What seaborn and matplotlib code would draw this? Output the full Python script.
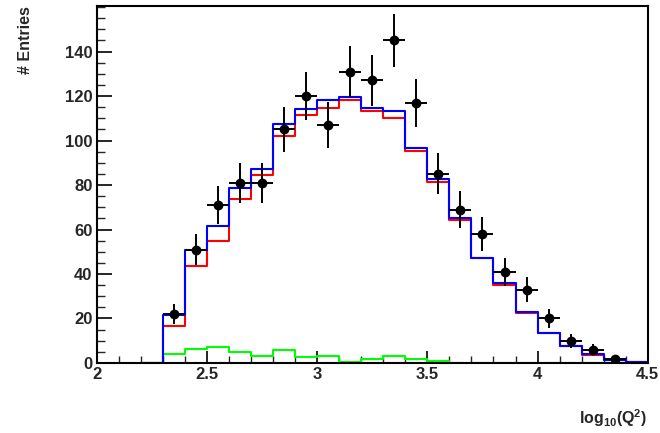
import numpy as np
import pandas as pd
import matplotlib
matplotlib.use("Agg")
import matplotlib.pyplot as plt
import seaborn as sns
from matplotlib.ticker import MultipleLocator

# ------------------- data ----------------------------------------- #
# an empty bin 2.2-2.3 in front so the step outline rises from zero at 2.3
bin_edges = [2.2, 2.3, 2.4, 2.5, 2.6, 2.7, 2.8, 2.9, 3.0, 3.1, 3.2, 3.3, 3.4,
             3.5, 3.6, 3.7, 3.8, 3.9, 4.0, 4.1, 4.2, 4.3, 4.4, 4.5]
bin_centers = [2.25, 2.35, 2.45, 2.55, 2.65, 2.75, 2.85, 2.95, 3.05, 3.15, 3.25, 3.35,
               3.45, 3.55, 3.65, 3.75, 3.85, 3.95, 4.05, 4.15, 4.25, 4.35, 4.45]

data_counts = [0, 22, 51, 71, 81, 81, 105, 120, 107, 131, 127, 145,
               117, 85, 69, 58, 41, 33, 20, 10, 6, 2, 0]
mc_total = [0, 21.5, 50.9, 61.4, 78.5, 87.4, 107.5, 114.0, 118.2, 119.5, 114.6, 113.2,
            96.5, 82.6, 65.0, 47.4, 35.9, 23.0, 13.7, 7.8, 3.9, 1.4, 0.5]
mc_signal = [0, 16.8, 43.4, 54.8, 73.9, 84.7, 101.9, 111.7, 114.7, 118.3, 113.1, 110.0,
             95.5, 81.5, 64.4, 47.0, 35.1, 22.5, 13.5, 7.7, 3.8, 1.3, 0.4]
mc_bkg = [0, 4.0, 6.3, 7.2, 4.8, 3.3, 5.7, 2.5, 3.3, 0.6, 1.6, 3.2,
          1.6, 0.7, 0, 0, 0, 0, 0, 0, 0, 0, 0]

hist_df = pd.DataFrame({"x": bin_centers, "total": mc_total,
                        "signal": mc_signal, "bkg": mc_bkg, "data": data_counts})
pts = hist_df[hist_df["data"] > 0]

# ------------------- style -------------------- #
sns.set_style("white")
plt.rcParams["font.family"] = ["Liberation Sans", "DejaVu Sans"]
plt.rcParams["font.weight"] = "bold"
plt.rcParams["mathtext.fontset"] = "custom"
plt.rcParams["mathtext.rm"] = "Liberation Sans:bold"
plt.rcParams["mathtext.bf"] = "Liberation Sans:bold"
plt.rcParams["mathtext.it"] = "Liberation Sans:bold"

fig = plt.figure(figsize=(6.6, 4.33), dpi=100)
ax = fig.add_axes([0.1465, 0.1617, 0.835, 0.8245])

sns.histplot(x=bin_centers, weights=mc_bkg, bins=bin_edges, element="step",
             fill=False, color="#00ff00", linewidth=1.5, ax=ax)
sns.histplot(x=bin_centers, weights=mc_signal, bins=bin_edges, element="step",
             fill=False, color="#ff0000", linewidth=1.5, ax=ax)
sns.histplot(x=bin_centers, weights=mc_total, bins=bin_edges, element="step",
             fill=False, color="#0000ff", linewidth=1.5, ax=ax)

ax.errorbar(pts["x"], pts["data"], xerr=0.05, yerr=np.sqrt(pts["data"]),
            fmt="none", ecolor="black", elinewidth=1.4, capsize=0, zorder=4)
sns.scatterplot(data=pts, x="x", y="data", color="black", s=50,
                edgecolor="black", linewidth=0, zorder=5, ax=ax)

ax.set_xlim(2, 4.5)
ax.set_ylim(0, 160.5)
ax.set_xlabel("")
ax.set_ylabel("")

ax.xaxis.set_major_locator(MultipleLocator(0.5))
ax.xaxis.set_minor_locator(MultipleLocator(0.1))
ax.yaxis.set_major_locator(MultipleLocator(20))
ax.yaxis.set_minor_locator(MultipleLocator(5))
ax.set_xticks([2, 2.5, 3, 3.5, 4, 4.5])
ax.set_xticklabels(["2", "2.5", "3", "3.5", "4", "4.5"])
ax.set_yticks([0, 20, 40, 60, 80, 100, 120, 140])

ax.tick_params(axis="y", which="major", direction="in", length=10.5, width=1.4,
               labelsize=12, pad=3, left=True, right=False)
ax.tick_params(axis="y", which="minor", direction="in", length=5.5, width=1.0,
               left=True, right=False)
ax.tick_params(axis="x", which="major", direction="in", length=9, width=1.4,
               labelsize=12, pad=3, bottom=True, top=False)
ax.tick_params(axis="x", which="minor", direction="in", length=5, width=1.0,
               bottom=True, top=False)
for lab in ax.get_xticklabels() + ax.get_yticklabels():
    lab.set_fontweight("bold")

for side in ["left", "right", "top", "bottom"]:
    ax.spines[side].set_visible(True)
    ax.spines[side].set_color("black")
    ax.spines[side].set_linewidth(1.5)
    ax.spines[side].set_zorder(3)

fig.text(0.038, 0.985, "# Entries", rotation=90, ha="center", va="top",
         fontsize=11.5, fontweight="bold")
fig.text(0.98, 0.035, r"$\mathbf{log_{10}(Q^{2})}$", ha="right", va="center",
         fontsize=11.5)

fig.savefig("out.png", dpi=100)
